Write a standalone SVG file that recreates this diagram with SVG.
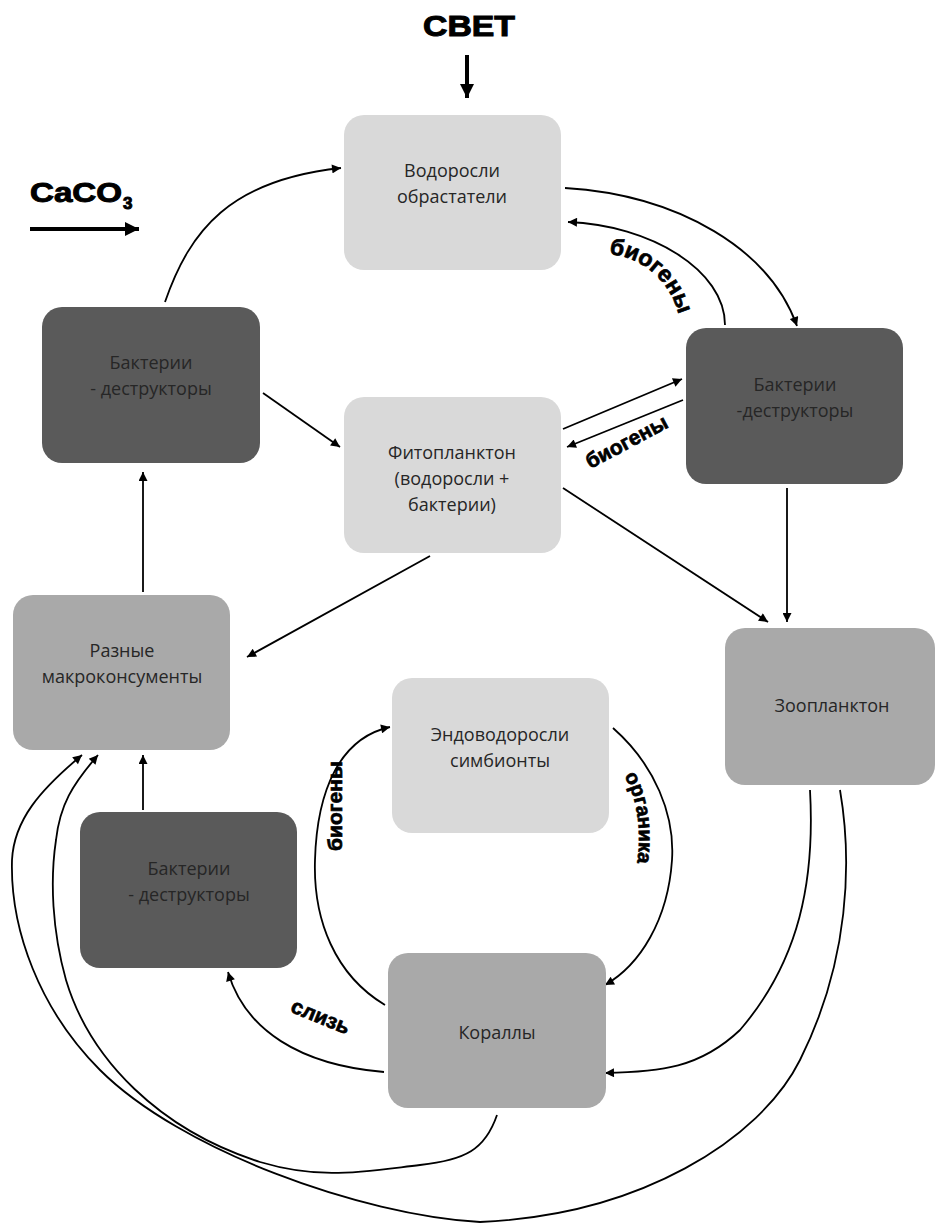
<svg xmlns="http://www.w3.org/2000/svg" width="935" height="1226" viewBox="0 0 935 1226">
<defs>
<style>
.node-light{fill:#d9d9d9}
.node-mid{fill:#a9a9a9}
.node-dark{fill:#5a5a5a}
.nt{font-family:"Open Sans","Liberation Sans",sans-serif;font-size:18px;fill:#262626;text-anchor:middle}
.con{fill:none;stroke:#000;stroke-width:1.8}
.lab{font-family:"Liberation Sans",Arial,sans-serif;font-weight:bold;fill:#000;stroke:#000;stroke-width:0.7}
.big{font-family:"Liberation Sans",Arial,sans-serif;font-weight:bold;fill:#000;stroke:#000;stroke-width:1}
</style>
<marker id="ah" viewBox="0 0 10 10" refX="10" refY="5" markerWidth="11" markerHeight="9" markerUnits="userSpaceOnUse" orient="auto">
<path d="M0,0 L10,5 L0,10 z" fill="#000"/>
</marker>
<marker id="ahb" viewBox="0 0 10 10" refX="10" refY="5" markerWidth="14" markerHeight="14" markerUnits="userSpaceOnUse" orient="auto">
<path d="M0,0 L10,5 L0,10 z" fill="#000"/>
</marker>
<path id="tp1" d="M 609 254 A 78 78 0 0 1 680 332"/>
<path id="tp2" d="M 624 776 C 640 800 644 850 632 884"/>
</defs>

<g id="inputs">
<text class="big" x="469" y="36" font-size="29" text-anchor="middle" textLength="92" lengthAdjust="spacingAndGlyphs">СВЕТ</text>
<line x1="467" y1="55" x2="467" y2="98" stroke="#000" stroke-width="4" marker-end="url(#ahb)"/>
<text class="big" x="30" y="202" font-size="28" textLength="92" lengthAdjust="spacingAndGlyphs">CaCO</text>
<text class="big" x="123" y="209" font-size="17">3</text>
<line x1="30" y1="229" x2="139" y2="229" stroke="#000" stroke-width="4" marker-end="url(#ahb)"/>
</g>

<g id="connectors">
<path class="con" d="M 165 302 C 190 230, 230 180, 341 168" marker-end="url(#ah)"/>
<path class="con" d="M 565 188 C 680 195, 770 250, 797 326" marker-end="url(#ah)"/>
<path class="con" d="M 725 325 C 725 270, 650 225, 568 222" marker-end="url(#ah)"/>
<path class="con" d="M 563 429 L 682 379" marker-end="url(#ah)"/>
<path class="con" d="M 683 400 L 567 447" marker-end="url(#ah)"/>
<path class="con" d="M 263 393 L 340 447" marker-end="url(#ah)"/>
<path class="con" d="M 430 556 L 247 657" marker-end="url(#ah)"/>
<path class="con" d="M 143 592 L 143 472" marker-end="url(#ah)"/>
<path class="con" d="M 787 488 L 787 622" marker-end="url(#ah)"/>
<path class="con" d="M 563 488 L 768 622" marker-end="url(#ah)"/>
<path class="con" d="M 143 810 L 143 755" marker-end="url(#ah)"/>
<path class="con" d="M 385 1005 C 335 975, 313 920, 315 860 C 317 790, 340 738, 390 727" marker-end="url(#ah)"/>
<path class="con" d="M 613 728 C 655 765, 675 815, 672 860 C 668 920, 640 965, 605 985" marker-end="url(#ah)"/>
<path class="con" d="M 384 1072 C 300 1065, 245 1030, 228 972" marker-end="url(#ah)"/>
<path class="con" d="M 810 790 C 815 880, 800 960, 740 1030 C 700 1068, 660 1072, 605 1073" marker-end="url(#ah)"/>
<path class="con" d="M 840 790 C 852 860, 850 960, 800 1060 C 760 1140, 640 1215, 480 1222 C 360 1215, 180 1150, 100 1070 C 40 1010, 10 930, 12 860 C 14 820, 40 790, 82 755" marker-end="url(#ah)"/>
<path class="con" d="M 497 1115 C 485 1150, 465 1160, 420 1165 C 360 1172, 320 1180, 260 1162 C 160 1130, 90 1060, 66 980 C 52 930, 50 880, 56 840 C 60 805, 72 785, 98 755" marker-end="url(#ah)"/>
</g>

<g id="labels">
<text class="lab" font-size="23"><textPath href="#tp1">биогены</textPath></text>
<text class="lab" font-size="21" x="630" y="448" text-anchor="middle" transform="rotate(-28 630 448)">биогены</text>
<text class="lab" font-size="21" x="342" y="806" text-anchor="middle" transform="rotate(-90 342 806)">биогены</text>
<text class="lab" font-size="20"><textPath href="#tp2">органика</textPath></text>
<text class="lab" font-size="21" x="318" y="1023" text-anchor="middle" transform="rotate(22 318 1023)">слизь</text>
</g>

<g id="n-vodorosli">
<rect class="node-light" x="344" y="115" width="217" height="155" rx="20"/>
<text class="nt" x="452" y="177">Водоросли</text>
<text class="nt" x="452" y="203">обрастатели</text>
</g>
<g id="n-bact-tl">
<rect class="node-dark" x="42" y="307" width="218" height="156" rx="20"/>
<text class="nt" x="151" y="369">Бактерии</text>
<text class="nt" x="151" y="395">- деструкторы</text>
</g>
<g id="n-bact-r">
<rect class="node-dark" x="686" y="328" width="217" height="156" rx="20"/>
<text class="nt" x="795" y="391">Бактерии</text>
<text class="nt" x="795" y="417">-деструкторы</text>
</g>
<g id="n-fito">
<rect class="node-light" x="344" y="397" width="217" height="156" rx="20"/>
<text class="nt" x="452" y="459">Фитопланктон</text>
<text class="nt" x="452" y="485">(водоросли +</text>
<text class="nt" x="452" y="511">бактерии)</text>
</g>
<g id="n-raznye">
<rect class="node-mid" x="13" y="595" width="217" height="155" rx="20"/>
<text class="nt" x="122" y="657">Разные</text>
<text class="nt" x="122" y="683">макроконсументы</text>
</g>
<g id="n-zoo">
<rect class="node-mid" x="725" y="628" width="210" height="157" rx="20"/>
<text class="nt" x="832" y="712">Зоопланктон</text>
</g>
<g id="n-endo">
<rect class="node-light" x="392" y="678" width="217" height="155" rx="20"/>
<text class="nt" x="500" y="741">Эндоводоросли</text>
<text class="nt" x="500" y="767">симбионты</text>
</g>
<g id="n-bact-bl">
<rect class="node-dark" x="80" y="812" width="217" height="156" rx="20"/>
<text class="nt" x="189" y="875">Бактерии</text>
<text class="nt" x="189" y="901">- деструкторы</text>
</g>
<g id="n-koral">
<rect class="node-mid" x="388" y="953" width="218" height="155" rx="20"/>
<text class="nt" x="497" y="1039">Кораллы</text>
</g>
</svg>
